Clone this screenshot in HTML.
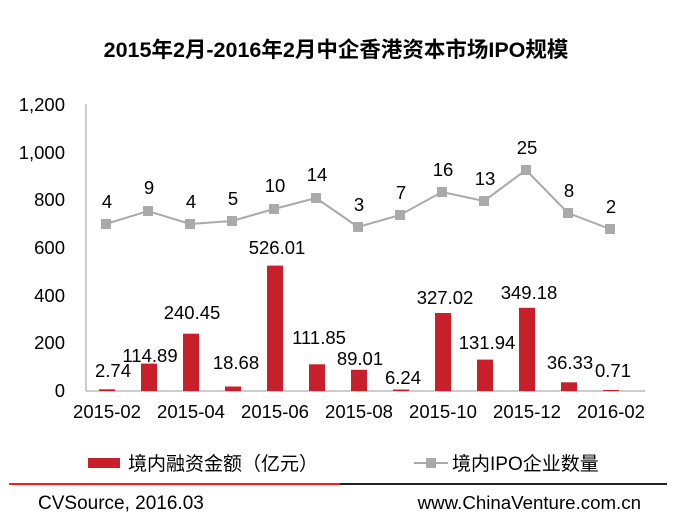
<!DOCTYPE html>
<html><head><meta charset="utf-8"><style>body{margin:0;background:#fff}svg{display:block}</style></head><body>
<svg width="675" height="520" xmlns="http://www.w3.org/2000/svg" font-family="Liberation Sans, Noto Sans CJK SC, sans-serif">
<text x="336" y="57" text-anchor="middle" font-size="21.5" font-weight="bold" font-family="Liberation Sans, Noto Sans CJK SC, sans-serif">2015年2月-2016年2月中企香港资本市场IPO规模</text>
<line x1="86" y1="104" x2="86" y2="391" stroke="#999"/>
<line x1="86" y1="391" x2="645" y2="391" stroke="#999"/>
<g font-size="18.5" text-anchor="end" fill="#000">
<text x="65" y="397">0</text><text x="65" y="349">200</text><text x="65" y="302">400</text><text x="65" y="254">600</text><text x="65" y="206">800</text><text x="65" y="159">1,000</text><text x="65" y="111">1,200</text>
</g>
<g font-size="18.5" text-anchor="middle">
<text x="107" y="418">2015-02</text><text x="191" y="418">2015-04</text><text x="275" y="418">2015-06</text><text x="359" y="418">2015-08</text><text x="443" y="418">2015-10</text><text x="527" y="418">2015-12</text><text x="611" y="418">2016-02</text>
</g>
<g fill="#c8202a">
<rect x="99" y="389.3" width="16" height="1.7"/>
<rect x="141" y="363.6" width="16" height="27.4"/>
<rect x="183" y="333.7" width="16" height="57.3"/>
<rect x="225" y="386.5" width="16" height="4.5"/>
<rect x="267" y="265.6" width="16" height="125.4"/>
<rect x="309" y="364.3" width="16" height="26.7"/>
<rect x="351" y="369.8" width="16" height="21.2"/>
<rect x="393" y="389.5" width="16" height="1.5"/>
<rect x="435" y="313.0" width="16" height="78"/>
<rect x="477" y="359.6" width="16" height="31.4"/>
<rect x="519" y="307.8" width="16" height="83.2"/>
<rect x="561" y="382.3" width="16" height="8.7"/>
<rect x="603" y="390" width="16" height="1"/>
</g>
<g font-size="18.5" text-anchor="middle">
<text x="113" y="377">2.74</text><text x="150" y="362">114.89</text><text x="192" y="319">240.45</text><text x="236" y="369">18.68</text><text x="277" y="254">526.01</text><text x="319" y="344">111.85</text><text x="360" y="365">89.01</text><text x="403" y="384">6.24</text><text x="445" y="304">327.02</text><text x="487" y="349">131.94</text><text x="529" y="299">349.18</text><text x="570" y="369">36.33</text><text x="613" y="377">0.71</text>
</g>
<polyline fill="none" stroke="#aaa" stroke-width="2" points="106,224 148,211 190,224 232,221 274,209 316,198 358,227 400,215 442,192 484,201 526,170 568,213 610,229"/>
<g fill="#aaa">
<rect x="101" y="219" width="10" height="10"/><rect x="143" y="206" width="10" height="10"/><rect x="185" y="219" width="10" height="10"/><rect x="227" y="216" width="10" height="10"/><rect x="269" y="204" width="10" height="10"/><rect x="311" y="193" width="10" height="10"/><rect x="353" y="222" width="10" height="10"/><rect x="395" y="210" width="10" height="10"/><rect x="437" y="187" width="10" height="10"/><rect x="479" y="196" width="10" height="10"/><rect x="521" y="165" width="10" height="10"/><rect x="563" y="208" width="10" height="10"/><rect x="605" y="224" width="10" height="10"/>
</g>
<g font-size="18.5" text-anchor="middle">
<text x="107" y="208">4</text><text x="149" y="194">9</text><text x="191" y="208">4</text><text x="233" y="205">5</text><text x="275" y="192">10</text><text x="317" y="181">14</text><text x="359" y="211">3</text><text x="401" y="199">7</text><text x="443" y="176">16</text><text x="485" y="185">13</text><text x="527" y="154">25</text><text x="569" y="197">8</text><text x="611" y="213">2</text>
</g>
<rect x="88" y="458" width="32" height="10" fill="#c8202a"/>
<text x="128" y="470" font-size="19">境内融资金额（亿元）</text>
<line x1="414" y1="463" x2="448" y2="463" stroke="#aaa" stroke-width="2"/>
<rect x="426" y="458" width="10" height="10" fill="#aaa"/>
<text x="452" y="470" font-size="19">境内IPO企业数量</text>
<line x1="9" y1="484" x2="340" y2="484" stroke="#ff1a1a" stroke-width="2"/>
<line x1="340" y1="484" x2="667" y2="484" stroke="#222" stroke-width="2"/>
<text x="38" y="509" font-size="19">CVSource, 2016.03</text>
<text x="641" y="509" font-size="18.7" text-anchor="end">www.ChinaVenture.com.cn</text>
</svg>
</body></html>
